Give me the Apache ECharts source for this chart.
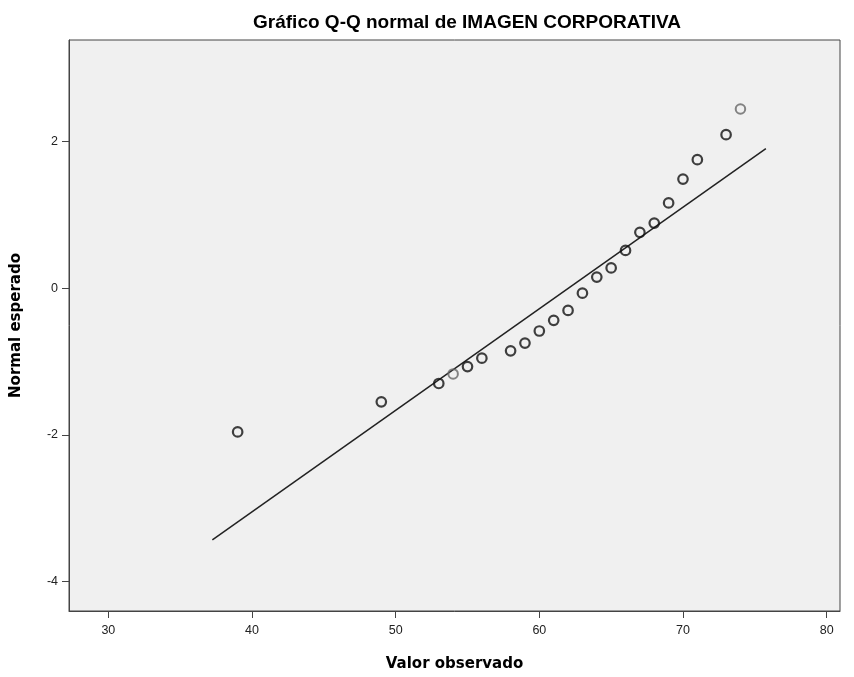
<!DOCTYPE html>
<html>
<head>
<meta charset="utf-8">
<script src="https://cdn.jsdelivr.net/npm/echarts@6/dist/echarts.min.js"></script>
<style>html,body{margin:0;padding:0;background:#fff;}#c{width:854px;height:677px;}</style>
</head>
<body>
<div id="c"></div>
<script>
const xTicks = [30, 40, 50, 60, 70, 80];
const yTicks = [-4, -2, 0, 2];
// observed values and expected normal quantiles (darker = repeated values)
const obsRepeated = [39, 49, 53, 55, 56, 58, 59, 60, 61, 62, 63, 64, 65, 66, 67, 68, 69, 70, 71, 73];
const expRepeated = [-1.96, -1.55, -1.30, -1.07, -0.955, -0.855, -0.75, -0.585, -0.44, -0.305, -0.07, 0.15, 0.275, 0.513, 0.76, 0.885, 1.16, 1.485, 1.75, 2.09];
const obsSingle = [54, 74];
const expSingle = [-1.17, 2.44];
const lineX = [37.24, 75.77];
const lineY = [-3.43, 1.90];

const zip = (a, b) => a.map((v, i) => [v, b[i]]);

const chart = echarts.init(document.getElementById('c'));
chart.setOption({
  animation: false,
  title: {
    text: 'Gráfico Q-Q normal de IMAGEN CORPORATIVA',
    left: 462, top: 8, textAlign: 'center',
    textStyle: { fontFamily: 'Liberation Sans', fontSize: 19, fontWeight: 'bold', color: '#000' }
  },
  grid: {
    left: 69, right: 14, top: 40, bottom: 61,
    show: true, backgroundColor: '#f0f0f0', borderColor: '#444', borderWidth: 1
  },
  xAxis: {
    type: 'value', min: 27.26, max: 80.93,
    name: 'Valor observado', nameLocation: 'middle', nameGap: 46,
    nameTextStyle: { fontFamily: 'DejaVu Sans', fontSize: 15, fontWeight: 'bold', color: '#000' },
    axisLine: { show: true, onZero: false, lineStyle: { color: '#444', width: 1 } },
    axisTick: { show: true, length: 7, lineStyle: { color: '#444' }, customValues: xTicks },
    axisLabel: { customValues: xTicks, margin: 13, fontFamily: 'Liberation Sans', fontSize: 12.5, color: '#222' },
    splitLine: { show: false }
  },
  yAxis: {
    type: 'value', min: -4.40, max: 3.38,
    name: 'Normal esperado', nameLocation: 'middle', nameGap: 45,
    nameTextStyle: { fontFamily: 'DejaVu Sans', fontSize: 15, fontWeight: 'bold', color: '#000' },
    axisLine: { show: true, onZero: false, lineStyle: { color: '#444', width: 1 } },
    axisTick: { show: true, length: 7, lineStyle: { color: '#444' }, customValues: yTicks },
    axisLabel: { customValues: yTicks, margin: 11, fontFamily: 'Liberation Sans', fontSize: 12.5, color: '#222' },
    splitLine: { show: false }
  },
  series: [
    {
      type: 'line', data: zip(lineX, lineY), symbol: 'none',
      lineStyle: { color: '#222', width: 1.5 }, z: 2
    },
    {
      type: 'scatter', data: zip(obsRepeated, expRepeated), symbol: 'circle', symbolSize: 9.5,
      itemStyle: { color: 'rgba(0,0,0,0)', borderColor: '#111', borderWidth: 2.2 }, z: 3
    },
    {
      type: 'scatter', data: zip(obsSingle, expSingle), symbol: 'circle', symbolSize: 9.5,
      itemStyle: { color: 'rgba(0,0,0,0)', borderColor: '#666', borderWidth: 2 }, z: 3
    }
  ]
});
</script>
</body>
</html>
